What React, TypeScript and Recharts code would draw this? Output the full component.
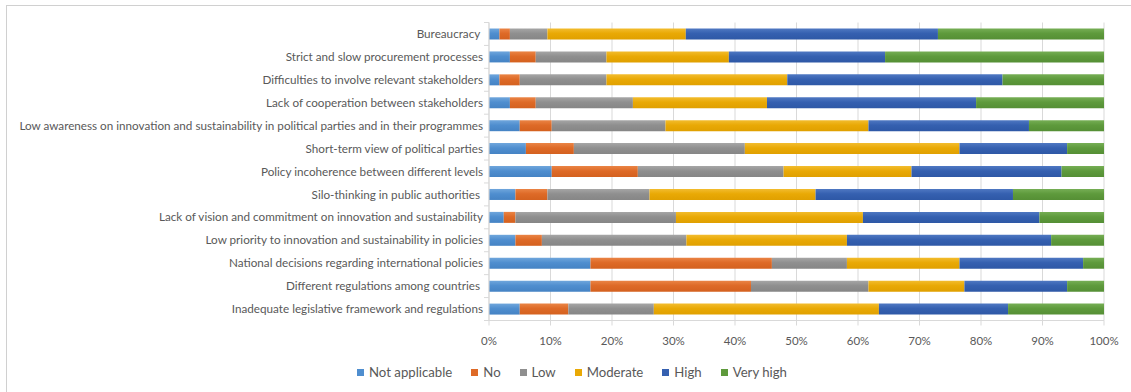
import React from 'react';
import { BarChart, Bar, XAxis, YAxis, CartesianGrid } from 'recharts';

const categories = [
  'Bureaucracy ',
  'Strict and slow procurement processes',
  'Difficulties to involve relevant stakeholders',
  'Lack of cooperation between stakeholders',
  'Low awareness on innovation and sustainability in political parties and in their programmes',
  'Short-term view of political parties',
  'Policy incoherence between different levels',
  'Silo-thinking in public authorities ',
  'Lack of vision and commitment on innovation and sustainability',
  'Low priority to innovation and sustainability in policies',
  'National decisions regarding international policies',
  'Different regulations among countries ',
  'Inadequate legislative framework and regulations',
];

// percent of answers per category
const notApplicable = [1.7, 3.4, 1.7, 3.4, 5.0, 6.0, 10.2, 4.3, 2.4, 4.3, 16.5, 16.5, 5.0];
const no = [1.7, 4.2, 3.3, 4.2, 5.2, 7.8, 14.0, 5.2, 1.9, 4.3, 29.5, 26.1, 7.9];
const low = [6.1, 11.5, 14.1, 15.8, 18.5, 27.8, 23.7, 16.6, 26.1, 23.5, 12.2, 19.1, 13.9];
const moderate = [22.5, 19.9, 29.4, 21.8, 33.0, 34.9, 20.8, 27.0, 30.4, 26.1, 18.3, 15.6, 36.6];
const high = [41.0, 25.4, 35.0, 34.0, 26.1, 17.5, 24.4, 32.1, 28.7, 33.2, 20.1, 16.7, 21.0];
const veryHigh = [27.0, 35.6, 16.5, 20.8, 12.2, 6.0, 6.9, 14.8, 10.5, 8.6, 3.4, 6.0, 15.6];

const xTicks = [0, 0.1, 0.2, 0.3, 0.4, 0.5, 0.6, 0.7, 0.8, 0.9, 1];

const series = [
  { key: 'na', name: 'Not applicable', values: notApplicable, color: '#4F8ECF', top: '#6FA6DC', bottom: '#4583C4' },
  { key: 'no', name: 'No', values: no, color: '#DE6A27', top: '#EA8445', bottom: '#D4611F' },
  { key: 'low', name: 'Low', values: low, color: '#8F8F8F', top: '#A6A6A6', bottom: '#868686' },
  { key: 'mod', name: 'Moderate', values: moderate, color: '#E9A905', top: '#F2BC2E', bottom: '#E0A000' },
  { key: 'high', name: 'High', values: high, color: '#3560B0', top: '#4F78C2', bottom: '#2E58A6' },
  { key: 'vh', name: 'Very high', values: veryHigh, color: '#5E9A3C', top: '#76AE55', bottom: '#558F35' },
];

const data = categories.map((name, i) => {
  const row: Record<string, string | number> = { name };
  series.forEach((s) => {
    row[s.key] = s.values[i];
  });
  return row;
});

const FONT = 'Lato, "Liberation Sans", sans-serif';
const TEXT = '#595959';
const GRID = '#D9D9D9';
const AXIS_X = 489;
const PLOT_TOP = 22.5;
const PLOT_BOTTOM = 320.5;
const BAND = (PLOT_BOTTOM - PLOT_TOP) / categories.length;

function CategoryTick(props: any) {
  const { y, payload, index } = props;
  return (
    <g>
      <text
        x={AXIS_X - 6}
        y={y}
        dy="0.35em"
        textAnchor="end"
        fill={TEXT}
        fontSize={11.7}
        fontFamily={FONT}
        style={{ whiteSpace: 'pre' }}
      >
        {payload.value}
      </text>
      <line x1={AXIS_X - 5} x2={AXIS_X} y1={y - BAND / 2} y2={y - BAND / 2} stroke={GRID} />
      {index === categories.length - 1 && (
        <line x1={AXIS_X - 5} x2={AXIS_X} y1={y + BAND / 2} y2={y + BAND / 2} stroke={GRID} />
      )}
    </g>
  );
}

export default function App() {
  return (
    <div style={{ position: 'absolute', left: 0, top: 0, width: 1131, height: 392, background: '#fff', overflow: 'hidden' }}>
      <div
        style={{
          position: 'absolute',
          left: 6,
          top: 5,
          width: 1200,
          height: 400,
          borderTop: '1px solid #D0D0D0',
          borderLeft: '1px solid #D0D0D0',
        }}
      />
      <div style={{ position: 'absolute', left: 0, top: 0 }}>
        <BarChart
          width={1131}
          height={392}
          data={data}
          layout="vertical"
          stackOffset="expand"
          barSize={11}
          margin={{ top: PLOT_TOP, right: 27, left: 0, bottom: 41.5 }}
        >
          <defs>
            {series.map((s) => (
              <linearGradient key={s.key} id={`grad-${s.key}`} x1="0" y1="0" x2="0" y2="1">
                <stop offset="0%" stopColor={s.top} />
                <stop offset="45%" stopColor={s.color} />
                <stop offset="100%" stopColor={s.bottom} />
              </linearGradient>
            ))}
          </defs>
          <CartesianGrid horizontal={false} stroke={GRID} />
          <XAxis
            type="number"
            domain={[0, 1]}
            ticks={xTicks}
            tickFormatter={(v: number) => `${Math.round(v * 100)}%`}
            height={30}
            tickSize={5}
            tickMargin={11}
            stroke={GRID}
            tick={{ fill: TEXT, fontSize: 11.5, fontFamily: FONT }}
          />
          <YAxis
            type="category"
            dataKey="name"
            width={AXIS_X}
            tickLine={false}
            stroke={GRID}
            interval={0}
            tick={<CategoryTick />}
          />
          {series.map((s) => (
            <Bar
              key={s.key}
              dataKey={s.key}
              name={s.name}
              stackId="a"
              fill={`url(#grad-${s.key})`}
              isAnimationActive={false}
            />
          ))}
        </BarChart>
      </div>
      <div
        style={{
          position: 'absolute',
          left: 357,
          top: 364,
          display: 'flex',
          alignItems: 'center',
          fontFamily: FONT,
          fontSize: 13.2,
          color: TEXT,
          whiteSpace: 'nowrap',
        }}
      >
        {series.map((s) => (
          <div key={s.key} style={{ display: 'flex', alignItems: 'center', marginRight: 19 }}>
            <span style={{ width: 7, height: 7, background: s.color, marginRight: 5, display: 'inline-block' }} />
            <span>{s.name}</span>
          </div>
        ))}
      </div>
    </div>
  );
}
